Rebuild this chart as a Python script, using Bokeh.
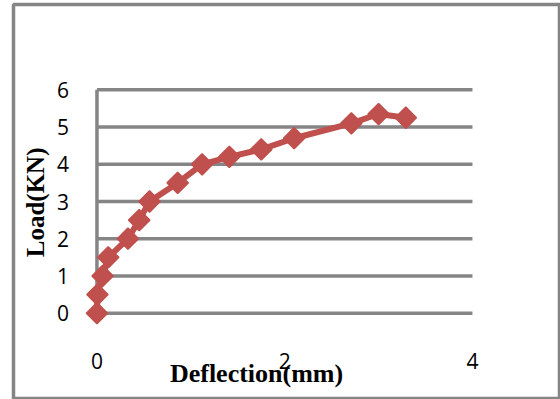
import math
from bokeh.plotting import figure
from bokeh.models import Range1d, FixedTicker, Label
from bokeh.embed import file_html
from bokeh.resources import INLINE

# Data
deflection_mm = [0.0, 0.005, 0.06, 0.12, 0.33, 0.45, 0.56, 0.86, 1.12, 1.41, 1.75, 2.10, 2.71, 3.00, 3.29]
load_kn = [0.0, 0.5, 1.0, 1.5, 2.0, 2.5, 3.0, 3.5, 4.0, 4.2, 4.4, 4.7, 5.1, 5.35, 5.25]
x_ticks = [0, 2, 4]
y_ticks = [0, 1, 2, 3, 4, 5, 6]
x_title = "Deflection(mm)"
y_title = "Load(KN)"

GRID = "#858585"
RED = "#C0504D"

p = figure(width=560, height=399, output_backend="svg", toolbar_location=None,
           x_range=Range1d(-0.889, 4.927), y_range=Range1d(-2.293, 8.293),
           min_border_left=13, min_border_top=4, min_border_right=1, min_border_bottom=1)
p.background_fill_color = "white"
p.border_fill_color = "white"
p.outline_line_color = GRID
p.outline_line_width = 3.5
p.xgrid.visible = False
p.ygrid.visible = False

# horizontal gridlines spanning the x tick extent, and the vertical axis line
n = len(y_ticks)
p.segment(x0=[min(x_ticks)] * n, y0=y_ticks, x1=[max(x_ticks)] * n, y1=y_ticks,
          line_color=GRID, line_width=3.5)
p.segment(x0=[min(x_ticks)], y0=[min(y_ticks)], x1=[min(x_ticks)], y1=[max(y_ticks)],
          line_color=GRID, line_width=3.5)

# axes drawn inside the frame
for ax in p.xaxis:
    ax.fixed_location = 0
    ax.ticker = FixedTicker(ticks=x_ticks)
    ax.axis_line_color = None
    ax.major_tick_line_color = None
    ax.minor_tick_line_color = None
    ax.major_label_standoff = 34
    ax.major_label_text_font = "Open Sans"
    ax.major_label_text_font_size = "21px"
    ax.major_label_text_color = "black"
for ax in p.yaxis:
    ax.fixed_location = 0
    ax.ticker = FixedTicker(ticks=y_ticks)
    ax.axis_line_color = None
    ax.major_tick_line_color = None
    ax.minor_tick_line_color = None
    ax.major_label_standoff = 22
    ax.major_label_text_font = "Open Sans"
    ax.major_label_text_font_size = "21px"
    ax.major_label_text_color = "black"

p.line(deflection_mm, load_kn, line_color=RED, line_width=6)
p.scatter(deflection_mm, load_kn, marker="square", angle=math.pi / 4, size=15,
          fill_color=RED, line_color=RED, line_width=1.5)

p.add_layout(Label(x=1.70, y=-1.62, text=x_title, text_font="Liberation Serif",
                   text_font_style="bold", text_font_size="26px", text_align="center",
                   text_baseline="middle", text_color="black"))
p.add_layout(Label(x=-0.655, y=2.976, text=y_title, angle=math.pi / 2,
                   text_font="Liberation Serif", text_font_style="bold",
                   text_font_size="25px", text_align="center",
                   text_baseline="middle", text_color="black"))

open("out.html", "w").write(file_html(p, INLINE))
